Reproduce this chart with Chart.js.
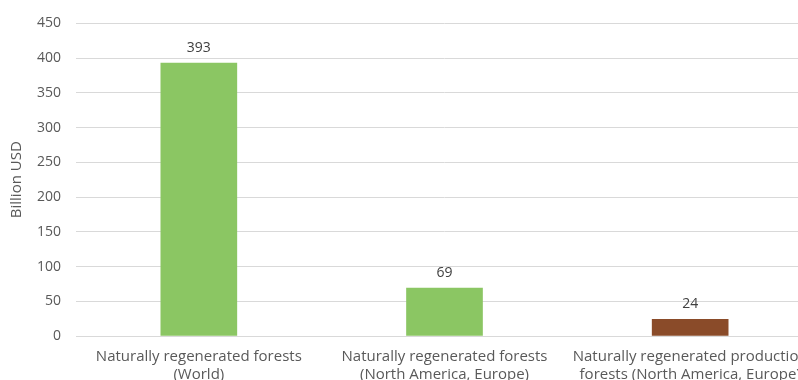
<!DOCTYPE html>
<html>
<head>
<meta charset="utf-8">
<script src="https://cdn.jsdelivr.net/npm/chart.js@4"></script>
<style>
html,body{margin:0;padding:0;overflow:hidden;background:#fff;width:798px;height:380px;}
#wrap{position:absolute;left:0;top:0;width:813px;height:392px;}
</style>
</head>
<body>
<div id="wrap"><canvas id="c"></canvas></div>
<script>
const categories = [
  ["Naturally regenerated forests", "(World)"],
  ["Naturally regenerated forests", "(North America, Europe)"],
  ["Naturally regenerated production", "forests (North America, Europe)"]
];
const values = [393, 69, 24];
const barColors = ["#8BC663", "#8BC663", "#8A4B29"];
const yTicks = [0, 50, 100, 150, 200, 250, 300, 350, 400, 450];
const yTitle = "Billion USD";

const FONT = "'Open Sans', 'Noto Sans', sans-serif";

const valueLabels = {
  id: 'valueLabels',
  afterDatasetsDraw(chart) {
    const ctx = chart.ctx;
    const meta = chart.getDatasetMeta(0);
    ctx.save();
    ctx.font = "14px " + FONT;
    ctx.fillStyle = "#404040";
    ctx.textAlign = "center";
    ctx.textBaseline = "middle";
    meta.data.forEach((bar, i) => {
      ctx.fillText(String(values[i]), bar.x, bar.y - 15);
    });
    ctx.restore();
  }
};

new Chart(document.getElementById('c'), {
  type: 'bar',
  data: {
    labels: categories,
    datasets: [{
      data: values,
      backgroundColor: barColors,
      borderWidth: 0,
      barThickness: 76
    }]
  },
  options: {
    responsive: true,
    maintainAspectRatio: false,
    animation: false,
    devicePixelRatio: 1,
    layout: { padding: { top: 21, left: 0, right: 0, bottom: 0 } },
    plugins: { legend: { display: false }, tooltip: { enabled: false } },
    scales: {
      x: {
        grid: { display: false, drawTicks: false },
        border: { display: true, color: '#d9d9d9', width: 1 },
        ticks: {
          color: '#595959',
          font: { family: FONT, size: 15, lineHeight: 1.2 },
          padding: 12,
          maxRotation: 0, minRotation: 0, autoSkip: false
        },
        afterFit(scale) { scale.height = 392 - 336; scale.paddingLeft = 0; scale.paddingRight = 0; }
      },
      y: {
        min: 0, max: 450,
        afterBuildTicks(scale) { scale.ticks = yTicks.map(v => ({ value: v })); },
        grid: { color: '#d9d9d9', lineWidth: 1, drawTicks: false },
        border: { display: false },
        ticks: {
          color: '#595959',
          font: { family: FONT, size: 14 },
          padding: 15
        },
        title: {
          display: true, text: yTitle, color: '#595959',
          font: { family: FONT, size: 15 },
          padding: { top: 8, bottom: 8 }
        },
        afterFit(scale) { scale.width = 76; }
      }
    }
  },
  plugins: [valueLabels]
});
</script>
</body>
</html>
